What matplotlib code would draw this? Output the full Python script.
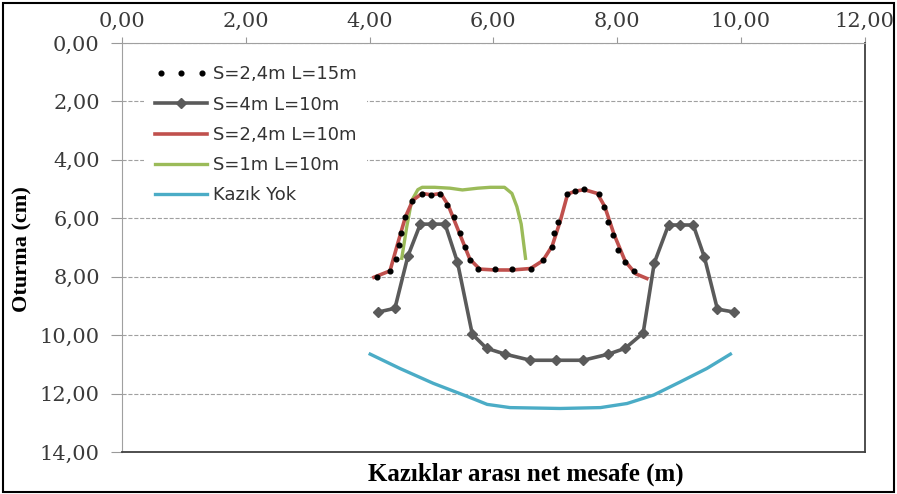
import matplotlib
matplotlib.use("Agg")
import matplotlib.pyplot as plt
from matplotlib.legend_handler import HandlerLine2D
from matplotlib.patches import Rectangle

# S=2,4m L=15m (black dots)
dots_x = [4.12, 4.33, 4.42, 4.47, 4.51, 4.58, 4.68, 4.85, 5.00, 5.14, 5.25, 5.36, 5.46, 5.55, 5.63, 5.75,
          6.03, 6.30, 6.61, 6.81, 6.95, 6.98, 7.05, 7.19, 7.32, 7.46, 7.70, 7.78, 7.86, 7.94, 8.02, 8.13, 8.27]
dots_y = [8.02, 7.80, 7.40, 6.92, 6.50, 5.95, 5.40, 5.17, 5.20, 5.17, 5.55, 5.95, 6.52, 6.97, 7.43, 7.72,
          7.75, 7.75, 7.72, 7.43, 6.97, 6.52, 6.12, 5.17, 5.07, 5.01, 5.17, 5.61, 6.12, 6.58, 7.09, 7.49, 7.80]

# S=4m L=10m
gray_x = [4.14, 4.41, 4.62, 4.82, 5.01, 5.22, 5.42, 5.66, 5.89, 6.19, 6.60, 7.02,
          7.45, 7.86, 8.13, 8.42, 8.60, 8.83, 9.02, 9.23, 9.41, 9.62, 9.89]
gray_y = [9.21, 9.08, 7.29, 6.20, 6.20, 6.20, 7.50, 9.97, 10.45, 10.65, 10.86, 10.86,
          10.86, 10.65, 10.45, 9.93, 7.53, 6.23, 6.23, 6.23, 7.33, 9.11, 9.21]

# S=2,4m L=10m
red_x = [4.07, 4.33, 4.45, 4.58, 4.70, 4.85, 5.00, 5.15, 5.27, 5.45, 5.62, 5.78, 6.03, 6.30,
         6.60, 6.80, 6.95, 7.08, 7.20, 7.33, 7.47, 7.68, 7.80, 7.95, 8.13, 8.30, 8.48]
red_y = [8.02, 7.80, 6.90, 5.95, 5.38, 5.15, 5.20, 5.15, 5.55, 6.50, 7.40, 7.74, 7.77, 7.77,
         7.72, 7.45, 6.95, 6.10, 5.17, 5.07, 5.02, 5.15, 5.60, 6.55, 7.47, 7.90, 8.06]

# S=1m L=10m
green_x = [4.52, 4.60, 4.68, 4.78, 4.85, 5.05, 5.30, 5.50, 5.75, 5.95, 6.18, 6.30, 6.38, 6.45, 6.52]
green_y = [7.37, 6.30, 5.40, 5.02, 4.94, 4.94, 4.97, 5.03, 4.97, 4.94, 4.94, 5.15, 5.60, 6.20, 7.37]

# Kazik Yok
blue_x = [4.01, 4.49, 5.03, 5.57, 5.90, 6.27, 7.08, 7.73, 8.16, 8.59, 9.02, 9.45, 9.83]
blue_y = [10.65, 11.14, 11.65, 12.09, 12.37, 12.48, 12.51, 12.48, 12.34, 12.05, 11.60, 11.14, 10.65]

labels = ["S=2,4m L=15m", "S=4m L=10m", "S=2,4m L=10m", "S=1m L=10m", "Kazık Yok"]
x_ticks = [0, 2, 4, 6, 8, 10, 12]
y_ticks = [0, 2, 4, 6, 8, 10, 12, 14]


def fmt(v):
    return f"{v:.2f}".replace(".", ",")


fig = plt.figure(figsize=(8.97, 4.94), dpi=100)
ax = fig.add_axes([0.136, 0.085, 0.828, 0.828])

ax.plot(gray_x, gray_y, color="#5a5a5a", linewidth=2.6, marker="D", markersize=5,
        label=labels[1], zorder=3)
ax.plot(red_x, red_y, color="#c0504d", linewidth=2.6, label=labels[2], zorder=4)
ax.plot(green_x, green_y, color="#9bbb59", linewidth=2.4, label=labels[3], zorder=3)
ax.plot(blue_x, blue_y, color="#4bacc6", linewidth=2.4, label=labels[4], zorder=3)
ax.plot(dots_x, dots_y, linestyle="none", marker="o", markersize=3.4, color="black",
        label=labels[0], zorder=5)

ax.set_xlim(0, 12)
ax.set_ylim(14, 0)
ax.xaxis.tick_top()
ax.set_xticks(x_ticks)
ax.set_xticklabels([fmt(v) for v in x_ticks])
ax.set_yticks(y_ticks)
ax.set_yticklabels([fmt(v) for v in y_ticks])

for lab in ax.get_xticklabels() + ax.get_yticklabels():
    lab.set_fontfamily("DejaVu Serif")
    lab.set_fontsize(15)
    lab.set_color("#3a3a3a")
ax.tick_params(axis="x", length=4, pad=5, color="#999999")
ax.tick_params(axis="y", length=8, pad=8, color="#999999")

ax.grid(axis="y", linestyle="--", color="#a0a0a0", linewidth=0.8)
ax.set_axisbelow(True)

ax.spines["top"].set_color("#a0a0a0")
ax.spines["left"].set_color("#a0a0a0")
ax.spines["right"].set_color("#404040")
ax.spines["bottom"].set_color("#404040")
ax.spines["right"].set_linewidth(1.3)
ax.spines["bottom"].set_linewidth(1.3)

fig.text(0.586, 0.040, "Kazıklar arası net mesafe (m)", family="Liberation Serif",
         weight="bold", fontsize=18, ha="center", va="center")
fig.text(0.025, 0.496, "Oturma (cm)", family="Liberation Serif", weight="bold",
         fontsize=16, rotation=90, ha="center", va="center")

# legend order follows the reference: dots first
handles, hl = ax.get_legend_handles_labels()
order = [hl.index(lbl) for lbl in labels]
handles = [handles[i] for i in order]
leg = ax.legend(handles, labels, loc="upper left", bbox_to_anchor=(0.03, 0.972),
                prop={"family": "DejaVu Sans", "size": 13},
                handlelength=2.9, handletextpad=0.28, labelspacing=0.68,
                borderpad=0.6, borderaxespad=0.0, frameon=True, fancybox=False,
                handler_map={handles[0]: HandlerLine2D(numpoints=3)})
leg.get_frame().set_facecolor("white")
leg.get_frame().set_edgecolor("none")
leg.get_frame().set_alpha(1)
for txt in leg.get_texts():
    txt.set_color("#333333")

# outer border around the whole figure
fig.patches.append(Rectangle((0.003, 0.004), 0.994, 0.99, transform=fig.transFigure,
                             fill=False, edgecolor="black", linewidth=1.5))

fig.savefig("out.png", dpi=100)
